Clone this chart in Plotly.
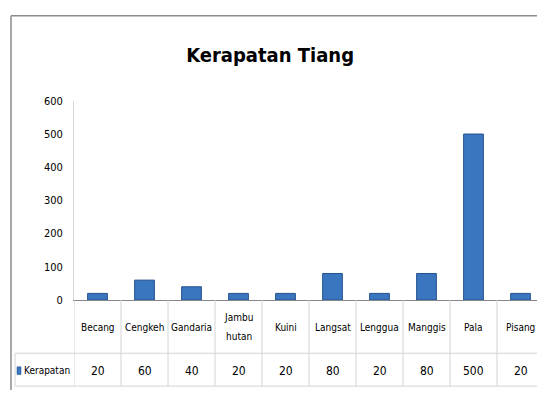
import plotly.graph_objects as go

categories = ["Becang", "Cengkeh", "Gandaria", "Jambu hutan", "Kuini",
              "Langsat", "Lenggua", "Manggis", "Pala", "Pisang"]
cat_labels = ["Becang", "Cengkeh", "Gandaria", "Jambu<br>hutan", "Kuini",
              "Langsat", "Lenggua", "Manggis", "Pala", "Pisang"]
values = [20, 60, 40, 20, 20, 80, 20, 80, 500, 20]
series_name = "Kerapatan"
title = "Kerapatan Tiang"
y_ticks = [0, 100, 200, 300, 400, 500, 600]

W, H = 537, 397
FONT = "Liberation Sans Narrow, DejaVu Sans Condensed, Roboto Condensed, Arial Narrow, sans-serif"

def py(pix):
    return (H - pix) / H

def px(pix):
    return pix / W

x0_pix = 74
col_w = 47.0
n = len(categories)
x_end = -0.5 + (W - x0_pix) / col_w

fig = go.Figure()
fig.add_trace(go.Bar(
    x=categories, y=values, name=series_name,
    width=0.42,
    marker=dict(color="#3A76C0", line=dict(color="#24528E", width=1)),
    showlegend=False,
))

y_bot, y_top = 304, 98
row1_bot = 359
row2_bot = 393

shapes = []
grid = "#D4D4D4"
for i in range(n + 1):
    shapes.append(dict(type="line", xref="x", yref="paper",
                       x0=i - 0.5, x1=i - 0.5, y0=py(y_bot), y1=py(row2_bot),
                       line=dict(color=grid, width=1)))
shapes.append(dict(type="line", xref="paper", yref="paper",
                   x0=px(15), x1=1, y0=py(row1_bot), y1=py(row1_bot),
                   line=dict(color=grid, width=1)))
shapes.append(dict(type="line", xref="paper", yref="paper",
                   x0=px(15), x1=1, y0=py(row2_bot), y1=py(row2_bot),
                   line=dict(color=grid, width=1)))
shapes.append(dict(type="line", xref="paper", yref="paper",
                   x0=px(15), x1=px(15), y0=py(row1_bot), y1=py(row2_bot),
                   line=dict(color=grid, width=1)))
shapes.append(dict(type="line", xref="paper", yref="paper",
                   x0=px(11), x1=1, y0=py(10), y1=py(10),
                   line=dict(color="#8C8C8C", width=1.5)))
shapes.append(dict(type="line", xref="paper", yref="paper",
                   x0=px(11), x1=px(11), y0=py(10), y1=py(397),
                   line=dict(color="#8C8C8C", width=1.5)))
shapes.append(dict(type="rect", xref="paper", yref="paper",
                   x0=px(17), x1=px(21), y0=py(381), y1=py(373),
                   fillcolor="#3A76C0", line=dict(color="#24528E", width=0.5)))

annotations = []
for c, lab, v in zip(categories, cat_labels, values):
    lines = lab.split("<br>")
    step = 20
    start = 332 - step * (len(lines) - 1) / 2
    for k, ln in enumerate(lines):
        annotations.append(dict(x=c, xref="x", y=py(start + k * step), yref="paper",
                                yanchor="middle",
                                text=ln, showarrow=False,
                                font=dict(family=FONT, size=10, color="#000")))
    annotations.append(dict(x=c, xref="x", y=py(377), yref="paper",
                            yanchor="middle",
                            text=str(v), showarrow=False,
                            font=dict(family=FONT, size=12, color="#000")))
annotations.append(dict(x=px(21.5), xref="paper", y=py(377), yref="paper",
                        xanchor="left", yanchor="middle", text=series_name, showarrow=False,
                        font=dict(family=FONT, size=10, color="#000")))

fig.update_layout(
    width=W, height=H,
    margin=dict(l=0, r=0, t=0, b=0),
    paper_bgcolor="white", plot_bgcolor="white",
    title=dict(text="<b>" + title + "</b>", x=0.503, xanchor="center",
               y=py(55), yanchor="middle",
               font=dict(family=FONT, size=20, color="#000")),
    xaxis=dict(domain=[px(x0_pix), 1], range=[-0.5, x_end],
               showticklabels=False, ticks="", showgrid=False,
               showline=True, linecolor="#868686", linewidth=1,
               zeroline=False, fixedrange=True),
    yaxis=dict(domain=[py(y_bot), py(y_top)], range=[0, 600],
               tickvals=y_ticks, showgrid=False, zeroline=False,
               showline=True, linecolor="#D9D9D9", linewidth=1,
               ticks="", ticklabelstandoff=8,
               tickfont=dict(family=FONT, size=11, color="#000")),
    shapes=shapes, annotations=annotations,
    bargap=0.58,
)

fig.write_html("out.html",
               config={"displayModeBar": False},
               post_script="document.body.style.margin='0';"
                           "document.documentElement.style.overflow='hidden';"
                           "document.body.style.overflow='hidden';")
